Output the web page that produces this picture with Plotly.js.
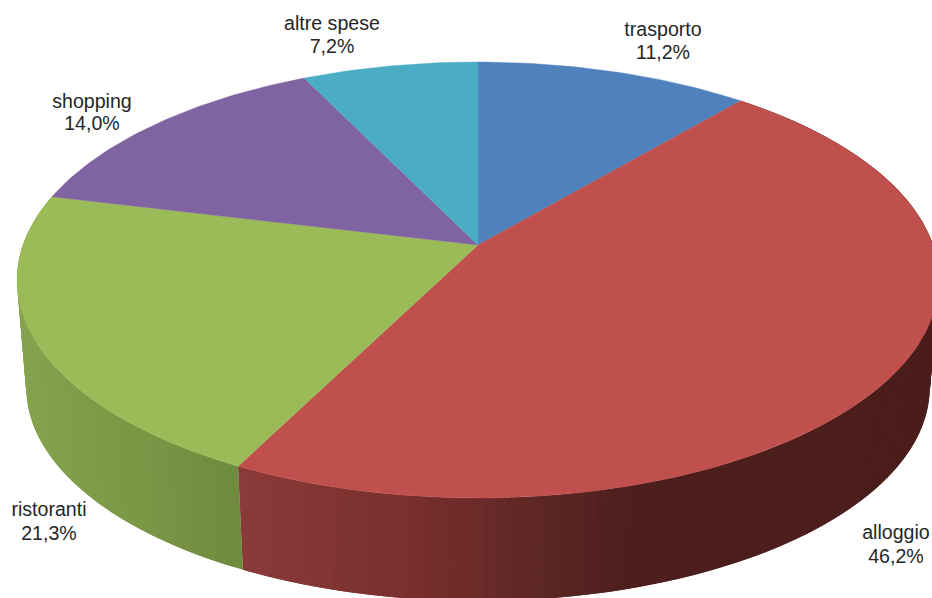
<!DOCTYPE html>
<html>
<head>
<meta charset="utf-8">
<script src="https://cdn.plot.ly/plotly-3.0.1.min.js"></script>
<style>html,body{margin:0;padding:0;background:#fff}#chart{width:932px;height:598px}</style>
</head>
<body>
<div id="chart"></div>
<script>
// Data
const categories = ["trasporto", "alloggio", "ristoranti", "shopping", "altre spese"];
const shares = [11.2, 46.2, 21.3, 14.0, 7.2];

// Styles
const topColors = ["#4f81bd", "#c0504d", "#9bbb59", "#8064a2", "#4bacc6"];
const labelX = [663, 896, 49, 92, 332];
const labelY1 = [31, 534, 511, 103, 25];
const labelY2 = [54, 558, 535, 125, 48];
const wallStops = {
  1: [[245, [138, 58, 56]], [400, [122, 48, 46]], [530, [95, 39, 37]], [632, [76, 30, 28]], [932, [74, 29, 27]]],
  2: [[18, [134, 163, 79]], [130, [124, 152, 70]], [245, [111, 138, 63]]]
};

// Perspective projection of the pie disc onto the page
const cx = 478, cy = 245, B = 455, A = 212.4, k = 0.1606;
const wallScale = 0.98, wallY0 = 353;
function topPoint(tDeg) {
  const t = tDeg * Math.PI / 180, X = Math.sin(t), Y = Math.cos(t), d = 1 + k * Y;
  return [cx + B * X / d, cy - A * Y / d];
}
function botPoint(tDeg) {
  const p = topPoint(tDeg);
  return [cx + wallScale * (p[0] - cx), wallY0 + wallScale * (p[1] - cy)];
}
function wallColor(stops, x) {
  if (x <= stops[0][0]) return stops[0][1];
  for (let i = 1; i < stops.length; i++) {
    if (x <= stops[i][0]) {
      const f = (x - stops[i - 1][0]) / (stops[i][0] - stops[i - 1][0]);
      return stops[i - 1][1].map((c, j) => c + f * (stops[i][1][j] - c));
    }
  }
  return stops[stops.length - 1][1];
}

const total = shares.reduce((a, b) => a + b, 0);
let acc = 0;
const spans = shares.map(v => { const s = acc; acc += v; return [s / total * 360, acc / total * 360]; });

const traces = [];
function poly(xs, ys, color, lw) {
  traces.push({
    type: "scatter", mode: "lines", x: xs, y: ys, fill: "toself", fillcolor: color,
    line: { color: color, width: lw }, hoverinfo: "skip", showlegend: false
  });
}

// Side wall: overlapping strips shaded by position, each painted over the previous one
[1, 2].forEach(i => {
  const [a, b] = spans[i];
  const n = Math.ceil((b - a) / 1.2), dt = (b - a) / n;
  for (let j = 0; j < n; j++) {
    const t1 = a + j * dt, t2 = Math.min(b, t1 + 2 * dt), tm = t1 + dt / 2;
    const xs = [], ys = [];
    [t1, (t1 + t2) / 2, t2].forEach(t => { const p = topPoint(t); xs.push(p[0]); ys.push(p[1]); });
    [t2, (t1 + t2) / 2, t1].forEach(t => { const q = botPoint(t); xs.push(q[0]); ys.push(q[1]); });
    xs.push(xs[0]); ys.push(ys[0]);
    const c = wallColor(wallStops[i], botPoint(tm)[0]).map(Math.round);
    poly(xs, ys, `rgb(${c.join(",")})`, 0);
  }
});

// Top face
spans.forEach(([a, b], i) => {
  const xs = [cx], ys = [cy];
  const n = Math.ceil(b - a);
  for (let j = 0; j <= n; j++) {
    const p = topPoint(a + (b - a) * j / n);
    xs.push(p[0]); ys.push(p[1]);
  }
  xs.push(cx); ys.push(cy);
  poly(xs, ys, topColors[i], 0.4);
});

// Labels
const fmt = v => v.toFixed(1).replace(".", ",") + "%";
const labelFont = { family: "Liberation Sans, Arial, sans-serif", size: 19.6, color: "#262626" };
traces.push({ type: "scatter", mode: "text", x: labelX, y: labelY1, text: categories, textposition: "middle center", textfont: labelFont, hoverinfo: "skip", showlegend: false, cliponaxis: false });
traces.push({ type: "scatter", mode: "text", x: labelX, y: labelY2, text: shares.map(fmt), textposition: "middle center", textfont: labelFont, hoverinfo: "skip", showlegend: false, cliponaxis: false });

const hidden = { visible: false, fixedrange: true };
Plotly.newPlot("chart", traces, {
  width: 932, height: 598,
  margin: { l: 0, r: 0, t: 0, b: 0 },
  paper_bgcolor: "#ffffff", plot_bgcolor: "#ffffff",
  xaxis: Object.assign({ range: [0, 932] }, hidden),
  yaxis: Object.assign({ range: [598, 0] }, hidden),
  showlegend: false
}, { displayModeBar: false, staticPlot: true });
</script>
</body>
</html>
